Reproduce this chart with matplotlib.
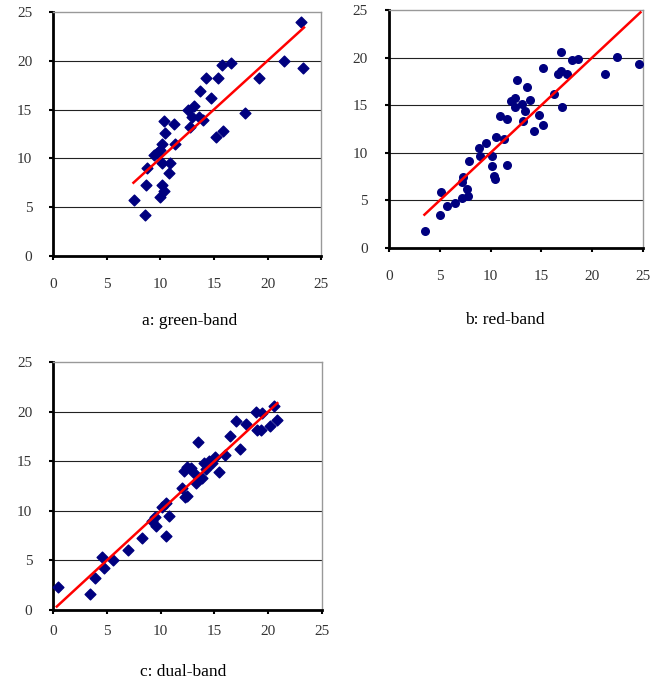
import numpy as np
import matplotlib.pyplot as plt

# panel a: green-band
a_x = [7.57, 8.53, 8.69, 8.78, 9.46, 9.7, 9.96, 10.02, 10.17, 10.17, 10.2, 10.33,
       10.33, 10.42, 10.79, 10.89, 11.26, 11.35, 12.59, 12.81, 13.0, 13.12, 13.59,
       13.74, 13.99, 14.27, 14.7, 15.2, 15.38, 15.82, 15.76, 16.62, 17.87, 19.2,
       21.53, 23.08, 23.33]
a_y = [5.7, 4.2, 7.31, 8.98, 10.38, 10.5, 6.01, 10.86, 11.48, 9.49, 7.24, 6.69,
       13.8, 12.6, 8.5, 9.53, 13.49, 11.48, 14.96, 13.25, 14.28, 15.37, 14.28,
       16.9, 13.93, 18.24, 16.15, 12.16, 18.24, 12.77, 19.54, 19.81, 14.69, 18.24,
       19.98, 23.94, 19.23]
a_line = [7.5, 23.4]

# panel b: red-band
b_x = [3.51, 4.99, 5.15, 5.71, 6.53, 7.19, 7.22, 7.32, 7.71, 7.74, 7.87, 8.86,
       8.92, 9.51, 10.17, 10.17, 10.3, 10.47, 10.5, 10.89, 11.29, 11.61, 11.61,
       11.98, 12.4, 12.4, 12.63, 13.09, 13.22, 13.35, 13.62, 13.91, 14.3, 14.73,
       15.12, 15.16, 16.21, 16.63, 16.9, 16.93, 17.03, 17.49, 18.01, 18.57, 21.29,
       22.41, 24.61]
b_y = [1.82, 3.46, 5.84, 4.44, 4.72, 5.24, 6.89, 7.41, 6.15, 5.45, 9.09, 10.49,
       9.65, 11.05, 9.62, 8.64, 7.59, 7.27, 11.61, 13.88, 11.43, 13.6, 8.67,
       15.42, 15.77, 14.86, 17.66, 15.14, 13.29, 14.41, 16.92, 15.56, 12.31, 13.99,
       12.87, 18.88, 16.22, 18.32, 20.56, 18.6, 14.86, 18.32, 19.72, 19.86, 18.32,
       20.03, 19.34]
b_line = [3.5, 24.75]

# panel c: dual-band
c_x = [0.5, 3.41, 3.87, 4.52, 4.74, 5.58, 6.97, 8.3, 9.2, 9.45, 9.57, 10.13,
       10.53, 10.53, 10.78, 11.99, 12.17, 12.24, 12.48, 12.45, 12.83, 13.07, 13.29,
       13.51, 13.88, 14.06, 14.25, 14.5, 14.78, 15.02, 15.43, 15.99, 16.48, 17.04,
       17.38, 17.94, 18.9, 18.96, 19.42, 19.36, 20.17, 20.51, 20.85]
c_y = [2.28, 1.58, 3.19, 5.37, 4.19, 5.03, 6.04, 7.28, 8.99, 9.33, 8.46, 10.4,
       10.74, 7.45, 9.5, 12.32, 13.99, 11.34, 11.48, 14.43, 14.3, 13.76, 12.75,
       16.95, 13.26, 14.77, 14.26, 15.0, 14.77, 15.37, 13.89, 15.67, 17.52, 19.06,
       16.21, 18.79, 19.97, 18.19, 19.9, 18.12, 18.59, 20.57, 19.19]
c_line = [0.35, 20.85]

ticks = [0, 5, 10, 15, 20, 25]
captions = ['a: green-band', 'b: red-band', 'c: dual-band']

plt.rcParams['font.family'] = 'Liberation Serif'

fig = plt.figure(figsize=(6.67, 6.88), dpi=100)
axa = fig.add_axes([0.0795, 0.628, 0.402, 0.3547])
axb = fig.add_axes([0.583, 0.6395, 0.381, 0.346])
axc = fig.add_axes([0.0795, 0.1134, 0.4033, 0.3605])


def style(ax, xpad):
    ax.set_xlim(0, 25)
    ax.set_ylim(0, 25)
    ax.set_xticks(ticks)
    ax.set_yticks(ticks)
    for y in ticks[1:-1]:
        ax.axhline(y, color='#222222', lw=0.8, zorder=1)
    for s in ['left', 'bottom']:
        ax.spines[s].set_linewidth(2.0)
        ax.spines[s].set_color('black')
    for s in ['top', 'right']:
        ax.spines[s].set_linewidth(1.0)
        ax.spines[s].set_color('#999999')
    ax.tick_params(axis='x', direction='out', length=3, width=1.5, pad=xpad,
                   labelsize=11, labelcolor='#333333')
    ax.tick_params(axis='y', direction='out', length=3, width=1.5, pad=12,
                   labelsize=11, labelcolor='#333333')


axa.scatter(a_x, a_y, marker='D', s=30, color='#00007f', zorder=3, clip_on=False)
axa.plot(a_line, a_line, color='red', lw=1.8, zorder=4)
style(axa, 13)

axb.scatter(b_x, b_y, marker='o', s=30, color='#00007f', zorder=3, clip_on=False)
axb.plot(b_line, b_line, color='red', lw=1.8, zorder=4)
style(axb, 13)

axc.scatter(c_x, c_y, marker='D', s=30, color='#00007f', zorder=3, clip_on=False)
axc.plot(c_line, c_line, color='red', lw=1.8, zorder=4)
style(axc, 8)

fig.text(190 / 667, 1 - 321 / 688, captions[0], ha='center', va='center', fontsize=12.5)
fig.text(505 / 667, 1 - 320 / 688, captions[1], ha='center', va='center', fontsize=12.5)
fig.text(183 / 667, 1 - 672 / 688, captions[2], ha='center', va='center', fontsize=12.5)

fig.savefig('out.png', dpi=100)
